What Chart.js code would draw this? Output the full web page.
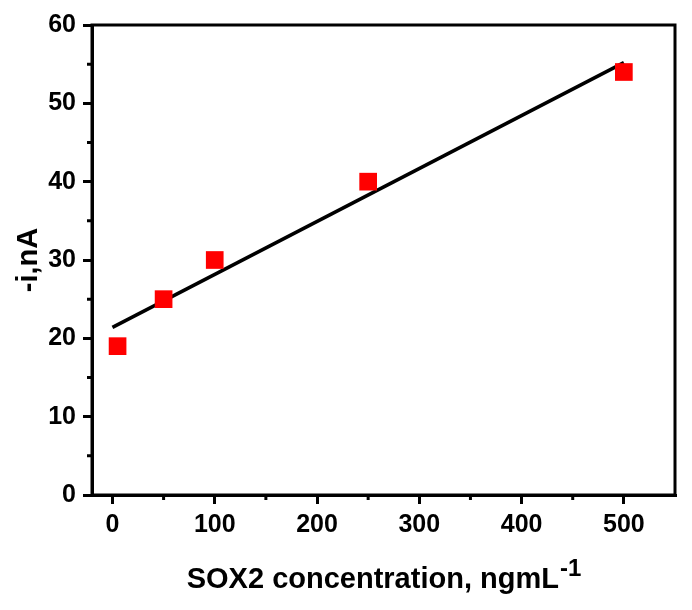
<!DOCTYPE html>
<html>
<head>
<meta charset="utf-8">
<script src="https://cdn.jsdelivr.net/npm/chart.js@4"></script>
<style>
  html, body { margin: 0; padding: 0; background: #fff; }
  #wrap { width: 692px; height: 610px; }
</style>
</head>
<body>
<div id="wrap"><canvas id="chart" width="692" height="610"></canvas></div>
<script>
// data
const concX = [5, 50, 100, 250, 500];
const currentY = [19, 25, 30, 40, 54];
const fitX = [0, 500];
const fitY = [21.4, 55.2];
const xTicks = [0, 100, 200, 300, 400, 500];
const xMinor = [50, 150, 250, 350, 450];
const yTicks = [0, 10, 20, 30, 40, 50, 60];
const yMinor = [5, 15, 25, 35, 45, 55];

const FONT = "'Liberation Sans', Arial, sans-serif";

// box, minor ticks and axis titles
const extras = {
  id: "extras",
  afterDraw(chart) {
    const ctx = chart.ctx;
    const a = chart.chartArea;
    const xs = chart.scales.x, ys = chart.scales.y;
    ctx.save();
    ctx.strokeStyle = "#000";
    ctx.lineWidth = 3;
    ctx.strokeRect(a.left, a.top, a.right - a.left, a.bottom - a.top);

    ctx.beginPath();
    xMinor.forEach(v => {
      const px = xs.getPixelForValue(v);
      ctx.moveTo(px, a.bottom);
      ctx.lineTo(px, a.bottom + 5);
    });
    yMinor.forEach(v => {
      const py = ys.getPixelForValue(v);
      ctx.moveTo(a.left, py);
      ctx.lineTo(a.left - 5, py);
    });
    ctx.stroke();

    // x title with superscript
    ctx.fillStyle = "#000";
    ctx.textBaseline = "alphabetic";
    const main = "SOX2 concentration, ngmL";
    const sup = "-1";
    ctx.font = "bold 29px " + FONT;
    const w1 = ctx.measureText(main).width;
    ctx.font = "bold 24px " + FONT;
    const w2 = ctx.measureText(sup).width;
    const cx = (a.left + a.right) / 2;
    let sx = cx - (w1 + w2) / 2;
    ctx.font = "bold 29px " + FONT;
    ctx.textAlign = "left";
    ctx.fillText(main, sx, 588);
    ctx.font = "bold 24px " + FONT;
    ctx.fillText(sup, sx + w1 + 1, 576);

    // y title
    ctx.translate(37, (a.top + a.bottom) / 2);
    ctx.rotate(-Math.PI / 2);
    ctx.font = "bold 29px " + FONT;
    ctx.textAlign = "center";
    ctx.fillText("-i,nA", 0, 0);
    ctx.restore();
  }
};

new Chart(document.getElementById("chart"), {
  type: "scatter",
  data: {
    datasets: [
      {
        label: "fit",
        type: "line",
        data: fitX.map((x, i) => ({ x, y: fitY[i] })),
        borderColor: "#000",
        borderWidth: 3.5,
        pointRadius: 0,
        fill: false,
        order: 2
      },
      {
        label: "data",
        data: concX.map((x, i) => ({ x, y: currentY[i] })),
        pointStyle: "rect",
        pointRadius: 12.5,
        pointHoverRadius: 12.5,
        backgroundColor: "#ff0000",
        borderColor: "#ff0000",
        borderWidth: 0,
        order: 1
      }
    ]
  },
  options: {
    responsive: false,
    animation: false,
    layout: { padding: { left: 0, top: 25, right: 17, bottom: 0 } },
    plugins: {
      legend: { display: false },
      tooltip: { enabled: false }
    },
    scales: {
      x: {
        type: "linear",
        min: -20,
        max: 550,
        afterBuildTicks: s => { s.ticks = xTicks.map(v => ({ value: v })); },
        afterFit: s => { s.height = 115; },
        border: { display: true, color: "#000", width: 3 },
        grid: { drawOnChartArea: false, color: "#000", tickLength: 9, lineWidth: 3 },
        ticks: {
          color: "#000",
          padding: 6,
          maxRotation: 0,
          font: { family: FONT, size: 25, weight: "bold" }
        }
      },
      y: {
        type: "linear",
        min: 0,
        max: 60,
        afterBuildTicks: s => { s.ticks = yTicks.map(v => ({ value: v })); },
        afterFit: s => { s.width = 92; },
        border: { display: true, color: "#000", width: 3 },
        grid: { drawOnChartArea: false, color: "#000", tickLength: 9, lineWidth: 3 },
        ticks: {
          color: "#000",
          padding: 7,
          font: { family: FONT, size: 25, weight: "bold" }
        }
      }
    }
  },
  plugins: [extras]
});
</script>
</body>
</html>
